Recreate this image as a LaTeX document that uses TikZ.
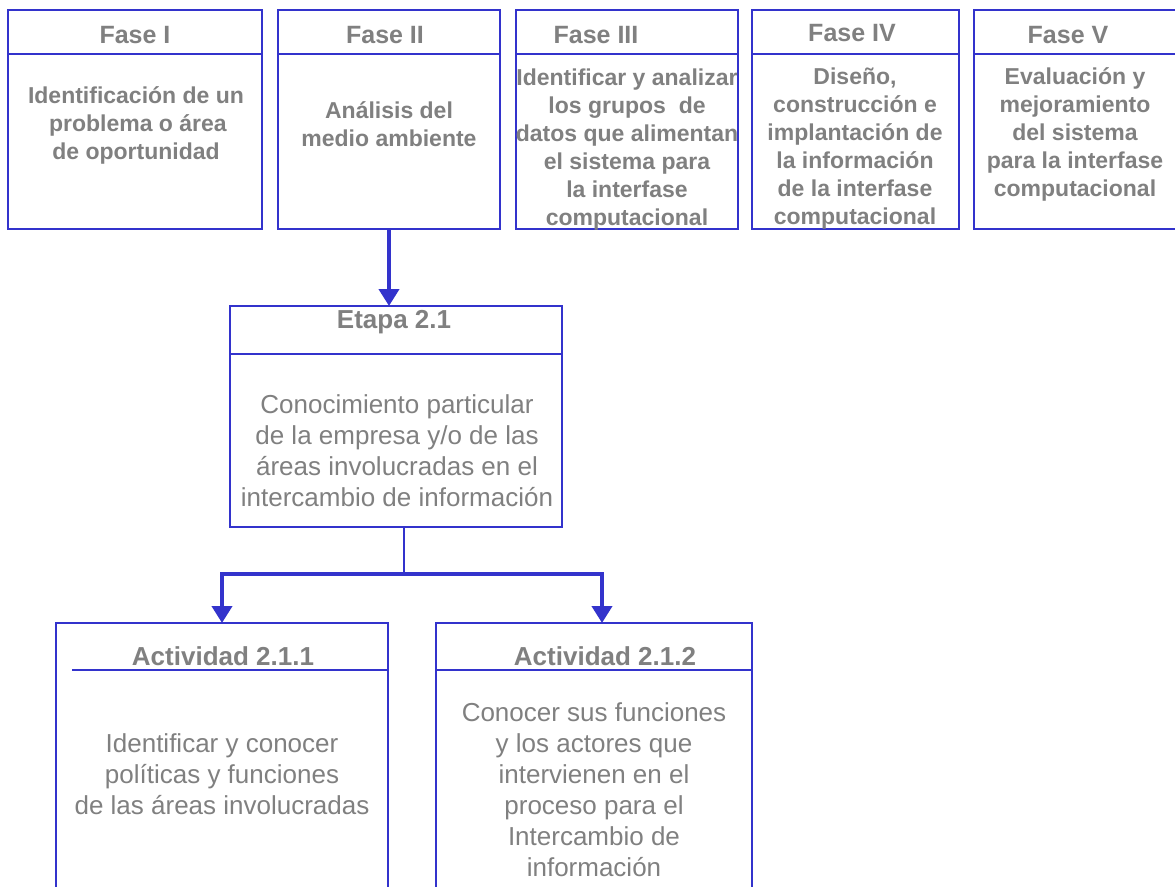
\documentclass[tikz,border=0pt]{standalone}
\usepackage{fontspec}
\setmainfont{Liberation Sans}
\usetikzlibrary{arrows.meta}
\definecolor{frame}{RGB}{51,51,204}
\definecolor{ink}{RGB}{128,128,128}
\begin{document}
\begin{tikzpicture}[x=1pt,y=-1pt,
  box/.style={draw=frame, line width=2pt, rectangle, inner sep=0pt, outer sep=0pt},
  rule/.style={draw=frame, line width=2pt},
  ttl/.style={text=ink, inner sep=0pt, font=\fontsize{25}{28}\selectfont\bfseries},
  bodyb/.style={text=ink, inner sep=0pt, align=center, font=\fontsize{23}{28}\selectfont\bfseries},
  bodyr/.style={text=ink, inner sep=0pt, align=center, font=\fontsize{26}{31}\selectfont},
  link/.style={draw=frame, line width=4pt},
  thinlink/.style={draw=frame, line width=2pt},
  tip/.style={-{Triangle[length=17pt,width=20pt]}}
]
\useasboundingbox (0,0) rectangle (1175,886);
\clip (0,0) rectangle (1175,886);
\fill[white] (0,0) rectangle (1175,886);

% phase boxes
\node[box, minimum width=254pt, minimum height=219pt] (f1) at (135,119.5) {};
\node[box, minimum width=222pt, minimum height=219pt] (f2) at (389,119.5) {};
\node[box, minimum width=222pt, minimum height=219pt] (f3) at (627,119.5) {};
\node[box, minimum width=207pt, minimum height=219pt] (f4) at (855.5,119.5) {};
\node[box, minimum width=226pt, minimum height=219pt] (f5) at (1087,119.5) {};
\draw[rule] (8,54) -- (262,54);
\draw[rule] (278,54) -- (500,54);
\draw[rule] (516,54) -- (738,54);
\draw[rule] (752,54) -- (959,54);
\draw[rule] (974,54) -- (1200,54);

% stage box
\node[box, minimum width=332pt, minimum height=221pt] (e) at (396,416.5) {};
\draw[rule] (230,354) -- (562,354);

% activity boxes
\node[box, minimum width=332pt, minimum height=277pt] (a1) at (222,761.5) {};
\node[box, minimum width=316pt, minimum height=277pt] (a2) at (594,761.5) {};
\draw[rule] (72,670) -- (388,670);
\draw[rule] (436,670) -- (752,670);

% phase texts
\node[ttl] (t1) at (135,35) {Fase I};
\node[ttl] (t2) at (385,35) {Fase II};
\node[ttl] (t3) at (596,35) {Fase III};
\node[ttl] (t4) at (852,33) {Fase IV};
\node[ttl] (t5) at (1068,35) {Fase V};

\node[bodyb] (b1) at (136,125) {Identificación de un\\ \,problema o área\\ de oportunidad};
\node[bodyb] (b2) at (389,124) {Análisis del\\ medio ambiente};
\node[bodyb] (b3) at (627,150) {Identificar y analizar\\ los grupos\ \ de\\ datos que alimentan\\ el sistema para\\ la interfase\\ computacional};
\node[bodyb] (b4) at (855,148.5) {Diseño,\\ construcción e\\ implantación de\\ la información\\ de la interfase\\ computacional};
\node[bodyb] (b5) at (1075,134.5) {Evaluación y\\ mejoramiento\\ del sistema\\ para la interfase\\ computacional};

% stage texts
\node[ttl, font=\fontsize{26}{30}\selectfont\bfseries] (te) at (394,322) {Etapa 2.1};
\node[bodyr] (be) at (397,450.5) {Conocimiento particular\\ de la empresa y/o de las\\ áreas involucradas en el\\ intercambio de información};

% activity texts
\node[ttl, font=\fontsize{26}{30}\selectfont\bfseries] (ta1) at (223,656) {Actividad 2.1.1};
\node[ttl, font=\fontsize{26}{30}\selectfont\bfseries] (ta2) at (605,656) {Actividad 2.1.2};
\node[bodyr] (ba1) at (222,774.5) {Identificar y conocer\\ políticas y funciones\\ de las áreas involucradas};
\node[bodyr] (ba2) at (594,790) {Conocer sus funciones\\ y los actores que\\ intervienen en el\\ proceso para el\\ Intercambio de\\ información};

% connectors
\draw[link, tip] (f2.south) -- (f2.south |- e.north);
\coordinate (j) at (404,574);
\coordinate (k) at (602,574);
\draw[thinlink] (e.south -| j) -- (j);
\draw[link, tip] (j) -| (a1.north);
\draw[link, tip] (j) -- (k) -- (k |- a2.north);
\end{tikzpicture}
\end{document}
